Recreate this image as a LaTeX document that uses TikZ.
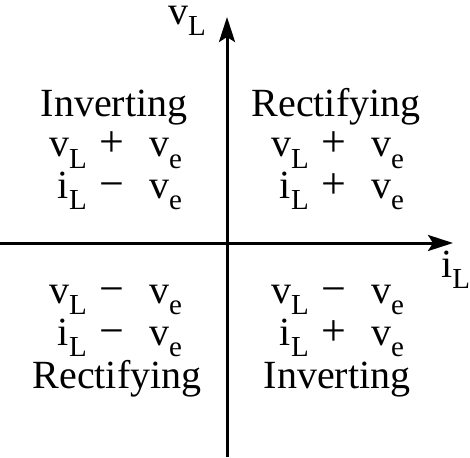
\documentclass[tikz,border=0pt]{standalone}
\usepackage{fontspec}
\setmainfont{Liberation Serif}
\usetikzlibrary{arrows.meta}
\newcommand{\sbsc}[1]{\smash{\raisebox{-11pt}{\fontsize{29}{29}\selectfont #1}}}
\begin{document}
\begin{tikzpicture}[x=1pt,y=-1pt,
  txt/.style={font=\fontsize{40}{40}\selectfont, inner sep=0pt, anchor=base},
  op/.style={txt, font=\fontsize{44}{44}\selectfont},
  lt/.style={txt, anchor=base east},
  rt/.style={txt, anchor=base west},
  axis/.style={line width=3pt, -{Stealth[length=25pt,width=16pt,inset=5pt]}}]
\useasboundingbox (0,0) rectangle (470,457);
% axes
\coordinate (xs) at (0,243);
\coordinate (xe) at (453,243);
\coordinate (ys) at (227,457);
\coordinate (ye) at (227,17);
\draw[axis] (xs) -- (xe);
\draw[axis] (ys) -- (ye);
\node[rt] (vl) at (168,25) {\smash{v}\sbsc{L}};
\node[rt] (il) at (441,277) {i\sbsc{L}};
% upper left
\node[txt] (ul1) at (114,117) {Inverting};
\node[lt] (ul2a) at (87,157) {v\sbsc{L}};
\node[op] (ul2b) at (112,157) {+};
\node[rt] (ul2c) at (149,157) {v\sbsc{e}};
\node[lt] (ul3a) at (87,198) {i\sbsc{L}};
\node[op] (ul3b) at (112,198) {−};
\node[rt] (ul3c) at (149,198) {v\sbsc{e}};
% upper right
\node[txt] (ur1) at (336,117) {Rectifying};
\node[lt] (ur2a) at (309,157) {v\sbsc{L}};
\node[op] (ur2b) at (334,157) {+};
\node[rt] (ur2c) at (371,157) {v\sbsc{e}};
\node[lt] (ur3a) at (309,198) {i\sbsc{L}};
\node[op] (ur3b) at (334,198) {+};
\node[rt] (ur3c) at (371,198) {v\sbsc{e}};
% lower left
\node[lt] (ll1a) at (87,303) {v\sbsc{L}};
\node[op] (ll1b) at (112,303) {−};
\node[rt] (ll1c) at (149,303) {v\sbsc{e}};
\node[lt] (ll2a) at (87,345) {i\sbsc{L}};
\node[op] (ll2b) at (112,345) {−};
\node[rt] (ll2c) at (149,345) {v\sbsc{e}};
\node[txt] (ll3) at (117,388) {Rectifying};
% lower right
\node[lt] (lr1a) at (309,303) {v\sbsc{L}};
\node[op] (lr1b) at (334,303) {−};
\node[rt] (lr1c) at (371,303) {v\sbsc{e}};
\node[lt] (lr2a) at (309,345) {i\sbsc{L}};
\node[op] (lr2b) at (334,345) {+};
\node[rt] (lr2c) at (371,345) {v\sbsc{e}};
\node[txt] (lr3) at (337,388) {Inverting};
\end{tikzpicture}
\end{document}
